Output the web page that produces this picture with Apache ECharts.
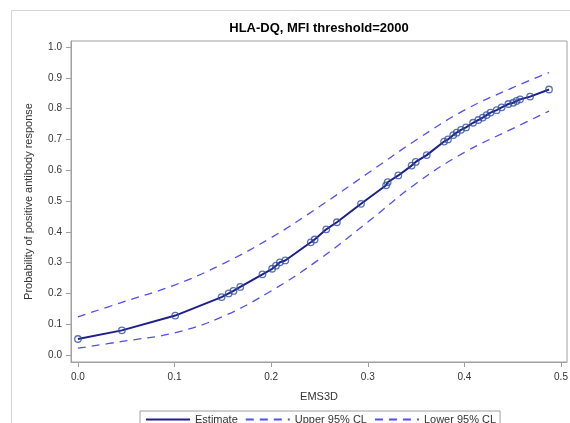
<!DOCTYPE html>
<html>
<head>
<meta charset="utf-8">
<script src="https://cdn.jsdelivr.net/npm/echarts@6/dist/echarts.min.js"></script>
<style>
html,body{margin:0;padding:0;background:#fff;}
#chart{width:570px;height:423px;}
</style>
</head>
<body>
<div id="chart"></div>
<script>
// Estimate points (EMS3D, probability)
var estX = [0, 0.0455, 0.1007, 0.1487, 0.156, 0.161, 0.168, 0.191, 0.201, 0.205, 0.209, 0.2146, 0.241, 0.245, 0.257, 0.268, 0.293, 0.319, 0.3206, 0.3316, 0.3454, 0.3496, 0.361, 0.379, 0.383, 0.3885, 0.392, 0.3965, 0.4017, 0.409, 0.4144, 0.419, 0.423, 0.427, 0.4334, 0.4386, 0.4455, 0.4506, 0.454, 0.4576, 0.468, 0.4876];
var estY = [0.052, 0.080, 0.128, 0.188, 0.200, 0.208, 0.221, 0.262, 0.280, 0.290, 0.301, 0.307, 0.366, 0.375, 0.408, 0.431, 0.491, 0.551, 0.561, 0.583, 0.615, 0.627, 0.649, 0.693, 0.700, 0.714, 0.722, 0.731, 0.739, 0.754, 0.763, 0.771, 0.779, 0.787, 0.795, 0.804, 0.815, 0.819, 0.825, 0.830, 0.839, 0.862];
// Confidence limits
var clX = [0, 0.0455, 0.1, 0.15, 0.2, 0.25, 0.3, 0.35, 0.4, 0.45, 0.4876];
var upperCL = [0.124, 0.171, 0.227, 0.296, 0.381, 0.482, 0.590, 0.698, 0.795, 0.868, 0.917];
var lowerCL = [0.022, 0.044, 0.072, 0.125, 0.208, 0.311, 0.4315, 0.557, 0.658, 0.735, 0.792];
// Tick labels
var xTicks = [0, 0.1, 0.2, 0.3, 0.4, 0.5];
var yTicks = [0, 0.1, 0.2, 0.3, 0.4, 0.5, 0.6, 0.7, 0.8, 0.9, 1.0];

function pairs(xs, ys){ return xs.map(function(x,i){ return [x, ys[i]]; }); }

var FONT = '"Liberation Sans", Arial, sans-serif';
var AXIS = '#a0a0a0';
var TXT = '#333333';
var CLCOL = '#5050f0';

var chart = echarts.init(document.getElementById('chart'), null, {renderer:'canvas'});
chart.setOption({
  animation: false,
  backgroundColor: '#ffffff',
  textStyle: {fontFamily: FONT},
  title: {
    text: 'HLA-DQ, MFI threshold=2000',
    left: 319, top: 22, textAlign: 'center', padding: 0,
    textStyle: {fontFamily: FONT, fontSize: 13, fontWeight: 'bold', color: '#000'}
  },
  graphic: [{
    type: 'rect', silent: true, z: -10,
    shape: {x: 11.5, y: 10.5, width: 600, height: 450},
    style: {fill: 'none', stroke: '#d4d4d4', lineWidth: 1}
  }],
  grid: {
    left: 71, right: 3, top: 41, bottom: 61,
    containLabel: false, outerBoundsMode: 'none',
    show: true, borderColor: AXIS, borderWidth: 1, backgroundColor: 'transparent'
  },
  legend: {
    data: [
      {name: 'Estimate', itemStyle: {opacity: 0}},
      {name: 'Upper 95% CL', itemStyle: {opacity: 0}},
      {name: 'Lower 95% CL', itemStyle: {opacity: 0}}
    ],
    left: 140, top: 411,
    itemWidth: 44, itemHeight: 10, itemGap: 7,
    padding: [3, 4, 8, 5],
    borderColor: AXIS, borderWidth: 1,
    textStyle: {fontFamily: FONT, fontSize: 11, color: TXT}
  },
  xAxis: {
    type: 'value', min: -0.0072, max: 0.5062,
    name: 'EMS3D', nameLocation: 'middle', nameGap: 29,
    nameTextStyle: {fontFamily: FONT, fontSize: 11, color: TXT},
    axisLine: {show: true, onZero: false, lineStyle: {color: AXIS}},
    axisTick: {show: true, length: 5, customValues: xTicks, lineStyle: {color: AXIS}},
    axisLabel: {customValues: xTicks, margin: 10, fontFamily: FONT, fontSize: 10, color: TXT,
      formatter: function(v){ return v.toFixed(1); }},
    splitLine: {show: false}
  },
  yAxis: {
    type: 'value', min: -0.0227, max: 1.0195,
    name: 'Probability of positive antibody response', nameLocation: 'middle', nameGap: 37,
    nameTextStyle: {fontFamily: FONT, fontSize: 11, color: TXT},
    axisLine: {show: true, onZero: false, lineStyle: {color: AXIS}},
    axisTick: {show: true, length: 5, customValues: yTicks, lineStyle: {color: AXIS}},
    axisLabel: {customValues: yTicks, margin: 9, fontFamily: FONT, fontSize: 10, color: TXT,
      formatter: function(v){ return v.toFixed(1); }},
    splitLine: {show: false}
  },
  series: [
    {
      name: 'Upper 95% CL', type: 'line', data: pairs(clX, upperCL),
      smooth: 0.4, symbol: 'none', z: 2,
      lineStyle: {color: CLCOL, width: 1.3, type: [8, 6]},
      itemStyle: {color: CLCOL}
    },
    {
      name: 'Lower 95% CL', type: 'line', data: pairs(clX, lowerCL),
      smooth: 0.4, symbol: 'none', z: 2,
      lineStyle: {color: CLCOL, width: 1.3, type: [8, 6]},
      itemStyle: {color: CLCOL}
    },
    {
      name: 'Estimate', type: 'line', data: pairs(estX, estY),
      symbol: 'none', z: 3,
      lineStyle: {color: '#1e1e8c', width: 2},
      itemStyle: {color: '#1e1e8c'}
    },
    {
      name: 'points', type: 'scatter', data: pairs(estX, estY),
      symbol: 'circle', symbolSize: 6.5, z: 4,
      itemStyle: {color: 'rgba(255,255,255,0)', borderColor: '#2f4fa0', borderWidth: 1.3}
    }
  ]
});
</script>
</body>
</html>
